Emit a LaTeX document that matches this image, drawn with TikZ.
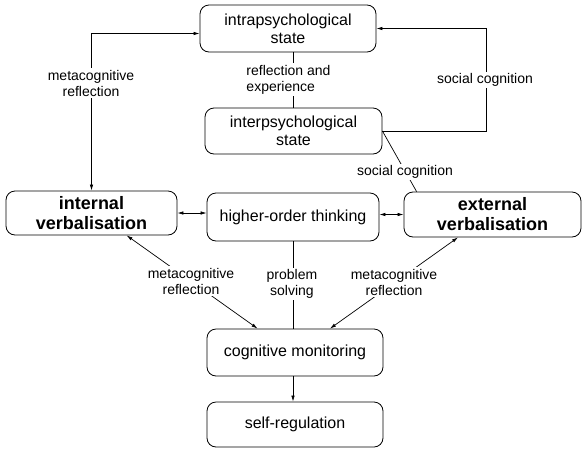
\documentclass[tikz,border=0pt]{standalone}
\usepackage{fontspec}
\setmainfont{Liberation Sans}
\usetikzlibrary{arrows.meta,calc}
\begin{document}
\begin{tikzpicture}[x=1pt,y=-1pt,
 box/.style={draw,rounded corners=9pt,line width=0.8pt,font=\fontsize{16}{18}\selectfont,align=center,inner sep=0pt},
 bbox/.style={box,font=\fontsize{18}{20}\bfseries\selectfont},
 lbl/.style={fill=white,font=\fontsize{14}{16}\selectfont,align=center,inner sep=1.5pt},
 conn/.style={line width=0.7pt},
 arr/.style={conn,-{Latex[length=6pt,width=3.5pt]}},
 darr/.style={conn,{Latex[length=6pt,width=3.5pt]}-{Latex[length=6pt,width=3.5pt]}}]
\useasboundingbox (0,0) rectangle (586,453);

\node[box,minimum width=176pt,minimum height=47pt] (intra) at (288,28.5) {intrapsychological\\state};
\node[box,minimum width=177pt,minimum height=46pt] (inter) at (293.5,131) {interpsychological\\state};
\node[bbox,minimum width=171pt,minimum height=44pt] (intv) at (91.5,213) {internal\\verbalisation};
\node[box,minimum width=172pt,minimum height=48pt] (hot) at (293,217) {higher-order thinking};
\node[bbox,minimum width=177pt,minimum height=45pt] (extv) at (492.5,214.5) {external\\verbalisation};
\node[box,minimum width=176pt,minimum height=47pt] (cm) at (295,352.5) {cognitive monitoring};
\node[box,minimum width=176pt,minimum height=45pt] (sr) at (295,424.5) {self-regulation};

% intra - inter
\draw[conn] (inter.north |- intra.south) -- (inter.north);
\node[lbl,align=left] (l1) at (288.5,79.5) {reflection and\\experience};

% metacognitive reflection (top left)
\coordinate (mtl) at ($(intra.west)+(0,5)$);
\draw[darr] (intv.north) |- (mtl);
\node[lbl] (l2) at (91,83) {metacognitive\\reflection};

% social cognition (right loop)
\draw[arr] (inter.east) -- ++(104,0) |- (intra.east);
\node[lbl] (l3) at (485,80) {social cognition};

% social cognition (diagonal)
\coordinate (sc2) at ($(extv.north west)+(13,0)$);
\draw[conn] (inter.east) -- (sc2);
\node[lbl] (l4) at (405,172) {social cognition};

% horizontal double arrows
\draw[darr] (intv.east) -- (intv.east -| hot.west);
\draw[darr] (hot.east |- extv.west) -- (extv.west);

% problem solving
\draw[conn] (hot.south) -- (hot.south |- cm.north);
\node[lbl] (l5) at (292,284) {problem\\solving};

% metacognitive reflection (bottom)
\coordinate (cml) at ($(cm.north west)+(51,0)$);
\coordinate (ivb) at ($(intv.south west)+(121,0)$);
\draw[darr] (ivb) -- (cml);
\node[lbl] (l6) at (191,281) {metacognitive\\reflection};

\coordinate (cmr) at ($(cm.north)+(35,0)$);
\coordinate (evb) at ($(extv.south)+(-34.5,0)$);
\draw[darr] (cmr) -- (evb);
\node[lbl] (l7) at (394,282) {metacognitive\\reflection};

% cognitive monitoring -> self-regulation
\draw[arr] (hot.south |- cm.south) -- (hot.south |- sr.north);
\end{tikzpicture}
\end{document}
